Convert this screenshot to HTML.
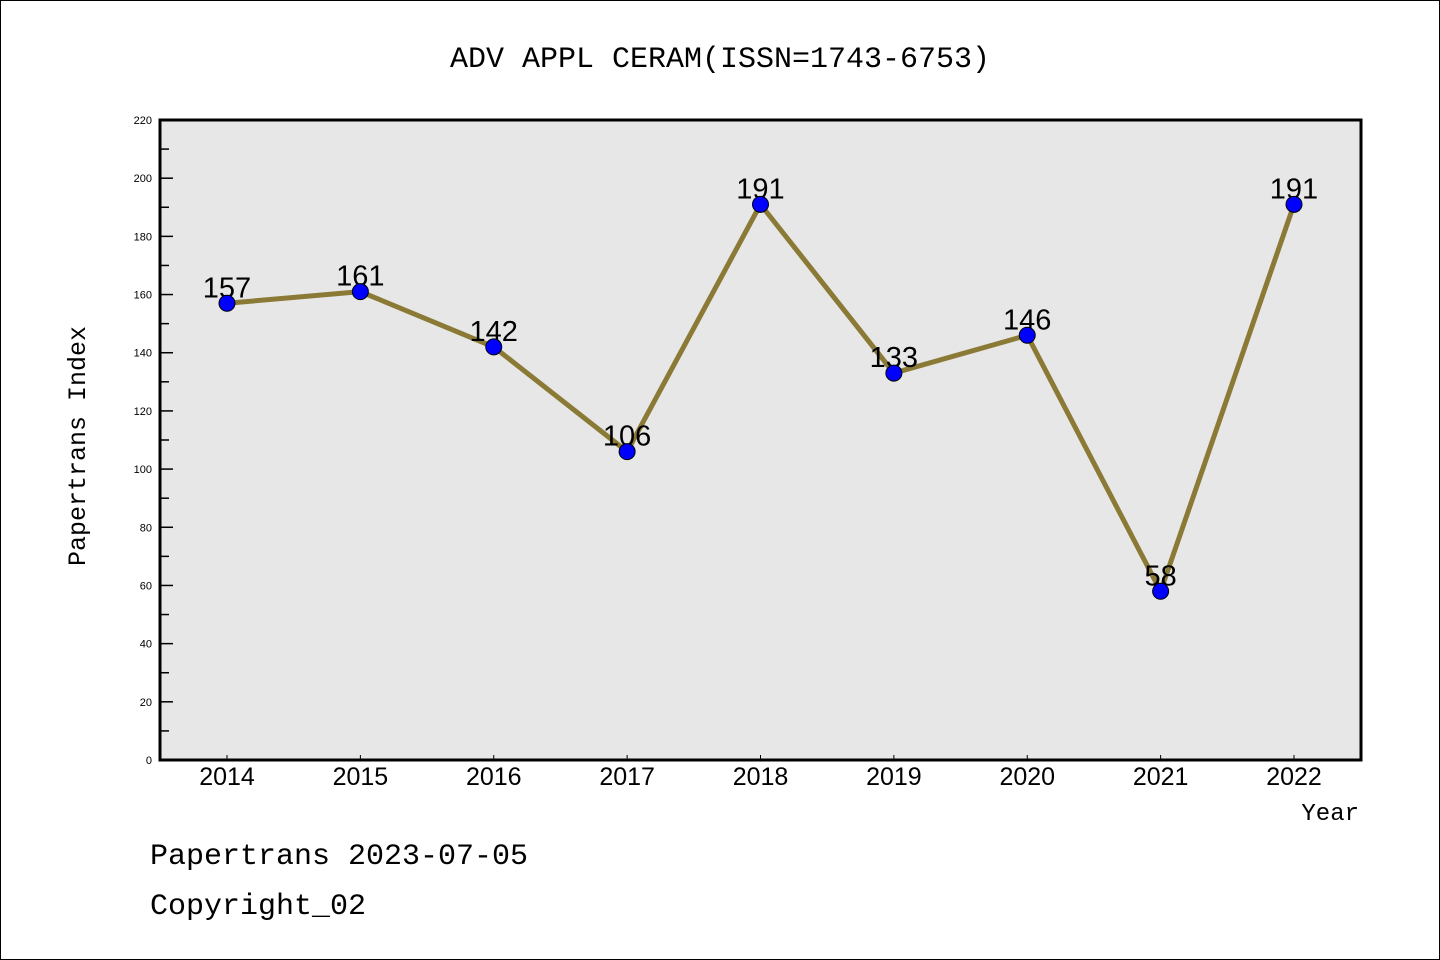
<!DOCTYPE html>
<html><head><meta charset="utf-8"><style>
html,body{margin:0;padding:0;background:#fff}
svg{display:block}
text{font-family:"Liberation Sans",sans-serif}
.mono{font-family:"Liberation Mono",monospace}
</style></head><body>
<svg id="chart" width="1440" height="960" viewBox="0 0 1440 960">
<rect x="0.5" y="0.5" width="1439" height="959" fill="#fff" stroke="#000"/>
<text class="mono" x="720" y="67" font-size="30" text-anchor="middle">ADV APPL CERAM(ISSN=1743-6753)</text>
<rect x="160" y="120" width="1201" height="640" fill="#e7e7e7"/>
<g id="axes"></g>
<g id="marks"></g>
<rect x="160" y="120" width="1201" height="640" fill="none" stroke="#000" stroke-width="3"/>
<text class="mono" x="85" y="446" font-size="25" text-anchor="middle" transform="rotate(-90 85 446)">Papertrans Index</text>
<text class="mono" x="1359" y="820" font-size="24" text-anchor="end">Year</text>
<text class="mono" x="150" y="864" font-size="30">Papertrans 2023-07-05</text>
<text class="mono" x="150" y="914" font-size="30">Copyright_02</text>
</svg>
<script>
const years=["2014","2015","2016","2017","2018","2019","2020","2021","2022"];
const values=[157,161,142,106,191,133,146,58,191];
const yTicks=[0,20,40,60,80,100,120,140,160,180,200,220];
const NS="http://www.w3.org/2000/svg";
const x0=227,x1=1294,yBase=760,yTop=120,yMax=220;
function xs(i){return x0+(x1-x0)*i/(years.length-1);}
function ys(v){return yBase-(yBase-yTop)*v/yMax;}
function mk(t,a,p){const e=document.createElementNS(NS,t);for(const k in a)e.setAttribute(k,a[k]);p.appendChild(e);return e;}
const ax=document.getElementById('axes'),mg=document.getElementById('marks');
yTicks.forEach((v,i)=>{
  const y=ys(v);
  const t=mk('line',{x1:160,x2:173,y1:y,y2:y,stroke:'#000','stroke-width':1.5},ax);
  
  
  const l=mk('text',{x:152,y:y+4,'font-size':11,'text-anchor':'end'},ax);
  l.textContent=v;
  
  
  if(i<yTicks.length-1){
    const ym=ys(v+10);
    const m=mk('line',{x1:160,x2:169,y1:ym,y2:ym,stroke:'#000','stroke-width':1.5},ax);
    
    
  }
});
years.forEach((yr,i)=>{
  const x=xs(i);
  const t=mk('line',{x1:x,x2:x,y1:760,y2:755,stroke:'#000','stroke-width':1},ax);
  
  
  const l=mk('text',{x:x,y:785,'font-size':25,'text-anchor':'middle'},ax);
  l.textContent=yr;
  
  
});
const pts=values.map((v,i)=>xs(i)+','+ys(v)).join(' ');
const line=mk('polyline',{points:pts,fill:'none',stroke:'#8b7a35','stroke-width':5,'stroke-linejoin':'round'},mg);


values.forEach((v,i)=>{
  const l=mk('text',{x:xs(i),y:ys(v)-6,'font-size':29,'text-anchor':'middle'},mg);
  l.textContent=v;
  
  
});
values.forEach((v,i)=>{
  const c=mk('circle',{cx:xs(i),cy:ys(v),r:8,fill:'#0000ff',stroke:'#000','stroke-width':1},mg);
  
  
});
</script>
</body></html>
